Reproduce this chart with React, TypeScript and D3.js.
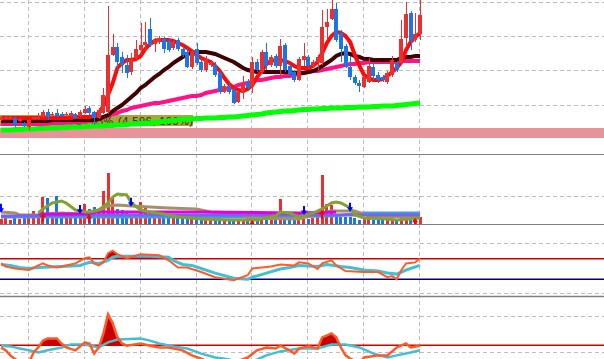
import React from 'react';
import * as d3 from 'd3';

const W = 604;
const H = 359;

// ---- main price panel (one entry per bar) ----
const opens = [3.20,3.21,3.21,3.22,3.19,3.17,3.13,3.21,3.21,3.23, 3.28,3.25,3.27,3.26,3.25,3.24,3.26,3.24,3.27,3.32, 3.28,3.22,3.27,3.28,3.85,3.93,3.83,3.75,3.68,3.82, 3.90,3.95,4.11,3.96,3.98,4.01,3.99,3.92,4.00,3.91, 3.88,3.73,3.91,3.78,3.70,3.75,3.75,3.67,3.48,3.54, 3.50,3.38,3.47,3.58,3.53,3.78,3.68,3.88,3.75,3.84, 3.74,3.95,3.74,3.68,3.60,3.80,3.83,3.74,3.78,3.77, 4.13,4.21,4.31,4.07,3.94,3.73,3.63,3.57,3.53,3.58, 3.73,3.65,3.63,3.58,3.65,3.77,3.77,4.02,4.27,4.00, 4.06];
const closes = [3.23,3.23,3.23,3.15,3.21,3.14,3.20,3.23,3.23,3.28, 3.23,3.26,3.24,3.24,3.26,3.27,3.22,3.28,3.31,3.27, 3.22,3.30,3.45,3.85,3.93,3.78,3.75,3.67,3.81,3.91, 3.95,3.98,3.95,4.00,4.02,3.91,3.90,3.98,3.91,3.85, 3.73,3.88,3.77,3.70,3.81,3.78,3.65,3.48,3.54,3.48, 3.37,3.48,3.55,3.52,3.78,3.70,3.88,3.74,3.83,3.74, 3.94,3.70,3.66,3.60,3.81,3.84,3.74,3.78,3.83,4.13, 4.18,4.31,4.00,3.91,3.73,3.63,3.57,3.54,3.63,3.74, 3.64,3.60,3.60,3.67,3.80,3.70,4.01,4.26,3.99,4.06, 4.25];
const highs = [3.24,3.24,3.24,3.23,3.22,3.18,3.21,3.24,3.27,3.30, 3.31,3.28,3.31,3.28,3.28,3.29,3.27,3.30,3.34,3.34, 3.29,3.32,3.52,4.34,4.06,3.97,3.88,3.85,3.87,4.00, 4.17,4.18,4.22,4.02,4.04,4.03,4.01,4.00,4.02,3.94, 3.92,3.91,3.97,3.82,3.84,3.80,3.78,3.70,3.56,3.57, 3.52,3.50,3.64,3.61,3.83,3.81,3.90,3.97,3.85,3.86, 4.01,3.97,3.76,3.70,3.83,3.97,3.85,3.80,3.85,4.30, 4.31,4.40,4.37,4.10,3.96,3.84,3.65,3.60,3.65,3.82, 3.78,3.68,3.65,3.69,3.84,3.79,4.20,4.38,4.29,4.27, 4.40];
const lows = [3.19,3.20,3.20,3.13,3.18,3.13,3.10,3.20,3.20,3.22, 3.20,3.23,3.23,3.23,3.23,3.23,3.21,3.23,3.26,3.25, 3.15,3.21,3.26,3.26,3.84,3.70,3.67,3.62,3.65,3.80, 3.85,3.88,3.93,3.88,3.96,3.87,3.88,3.90,3.89,3.83, 3.72,3.71,3.75,3.68,3.68,3.73,3.63,3.46,3.47,3.46, 3.36,3.37,3.41,3.50,3.47,3.68,3.66,3.70,3.73,3.72, 3.62,3.68,3.64,3.58,3.59,3.74,3.72,3.73,3.70,3.75, 4.00,4.20,3.98,3.78,3.72,3.60,3.55,3.48,3.52,3.57, 3.60,3.57,3.58,3.56,3.63,3.68,3.75,3.95,3.90,3.98, 4.00];

const maFast = [3.22,3.22,3.22,3.22,3.22,3.22,3.22,3.22,3.22,3.22, 3.22,3.22,3.22,3.22,3.22,3.22,3.23,3.23,3.23,3.23, 3.24,3.27,3.34,3.45,3.57,3.72,3.77,3.80,3.80,3.81, 3.84,3.91,3.96,3.99,4.00,4.00,4.00,3.99,3.97,3.95, 3.92,3.89,3.85,3.82,3.80,3.78,3.74,3.69,3.62,3.56, 3.52,3.50,3.49,3.51,3.55,3.63,3.69,3.76,3.79,3.80, 3.80,3.79,3.77,3.74,3.72,3.72,3.72,3.74,3.78,3.87, 3.97,4.04,4.08,4.07,4.04,3.98,3.85,3.74,3.65,3.62, 3.60,3.60,3.61,3.64,3.68,3.72,3.78,3.90,3.98,4.03, 4.07];
const maMid = [3.19,3.19,3.19,3.19,3.19,3.19,3.19,3.19,3.19,3.19, 3.19,3.20,3.20,3.20,3.20,3.20,3.20,3.20,3.20,3.20, 3.20,3.21,3.23,3.25,3.29,3.32,3.35,3.39,3.43,3.47, 3.52,3.55,3.59,3.63,3.66,3.70,3.73,3.77,3.80,3.83, 3.86,3.87,3.88,3.88,3.88,3.87,3.86,3.84,3.82,3.80, 3.78,3.75,3.72,3.70,3.69,3.68,3.68,3.68,3.68,3.68, 3.68,3.68,3.68,3.67,3.67,3.67,3.68,3.69,3.71,3.74, 3.77,3.80,3.84,3.86,3.87,3.86,3.84,3.83,3.81,3.81, 3.80,3.80,3.80,3.80,3.80,3.80,3.82,3.83,3.83,3.84, 3.84];
const maSlow = [3.16,3.16,3.16,3.16,3.16,3.16,3.16,3.16,3.16,3.16, 3.165,3.17,3.17,3.17,3.175,3.175,3.18,3.18,3.185,3.19, 3.20,3.21,3.23,3.24,3.26,3.27,3.29,3.30,3.32,3.33, 3.34,3.35,3.36,3.37,3.37,3.38,3.39,3.40,3.41,3.42, 3.43,3.44,3.44,3.45,3.47,3.48,3.49,3.50,3.51,3.52, 3.53,3.55,3.56,3.57,3.58,3.60,3.60,3.61,3.62,3.63, 3.63,3.64,3.64,3.65,3.66,3.67,3.68,3.69,3.69,3.70, 3.71,3.72,3.73,3.74,3.75,3.76,3.76,3.77,3.77,3.78, 3.78,3.78,3.78,3.78,3.78,3.78,3.79,3.79,3.79,3.79, 3.79];
const maLong = [3.10,3.10,3.10,3.105,3.105,3.11,3.11,3.11,3.115,3.115, 3.12,3.12,3.12,3.125,3.125,3.13,3.13,3.13,3.135,3.135, 3.14,3.14,3.14,3.145,3.145,3.15,3.15,3.155,3.16,3.16, 3.165,3.17,3.17,3.175,3.18,3.185,3.19,3.195,3.20,3.205, 3.205,3.21,3.215,3.215,3.22,3.22,3.22,3.225,3.225,3.23, 3.23,3.235,3.24,3.245,3.25,3.255,3.26,3.27,3.275,3.28, 3.285,3.29,3.29,3.295,3.30,3.305,3.305,3.31,3.31,3.315, 3.315,3.32,3.32,3.32,3.325,3.325,3.325,3.33,3.33,3.33, 3.335,3.335,3.34,3.34,3.34,3.345,3.35,3.355,3.36,3.365, 3.37];
const priceGrid = [4.375, 4.04, 3.695, 3.35];
const labelPct = '14.05%';
const labelInfo = '(4.596, 100%)';

// ---- volume panel ----
const volumes = [90,100,80,110,90,100,120,230,110,480, 470,130,500,120,100,110,120,150,357,270, 300,220,590,910,460,270,250,200,180,160, 390,300,240,180,150,130,120,110,110,100, 120,110,100,90,100,90,100,110,90,80, 90,80,70,70,100,80,90,80,80,90, 446,100,90,80,150,120,90,100,130,875, 357,340,150,120,130,120,100,80,90,100, 80,90,70,80,90,80,100,140,110,100, 130];
const tanLine: [number, number][] = [[0,214],[3,196],[4,161],[8,161],[13,196],[17,179],[19,214],[21,250],[23,321],[25,339],[28,321],[32,304],[36,286],[42,268],[45,214],[51,196],[53,107],[64,89],[68,179],[71,232],[76,232],[79,143],[90,125]];
const oliveLine: [number, number][] = [[8,196],[9,268],[11,375],[13,411],[14,375],[16,250],[18,214],[19,214],[21,250],[23,375],[24,482],[25,536],[27,518],[28,375],[30,250],[32,214],[35,179],[38,125],[43,89],[49,71],[55,71],[59,143],[60,214],[62,196],[64,125],[67,196],[69,268],[71,375],[72,393],[73,375],[75,286],[76,161],[78,107],[83,89],[85,71],[90,107]];
const magentaLine: [number, number][] = [[8,179],[19,179],[20,214],[43,214],[64,196],[72,214]];
const purpleLine: [number, number][] = [[0,143],[21,161],[64,161],[90,161]];
const blueLine: [number, number][] = [[0,125],[17,125],[53,125],[71,143],[78,196],[90,196]];
const downArrows: [number, number][] = [[0,202],[17,179],[28,309],[65,161],[75,220]];
const upArrows: [number, number][] = [[9,202],[19,179],[54,71],[69,250],[89,112]];

// ---- RSI panel ----
const rsiSignal: [number, number][] = [[0,59],[2,57],[4,53],[6,51],[8,53],[13,55],[17,57],[19,63],[21,61],[23,67],[24,73],[25,75],[32,75],[36,73],[37,67],[39,59],[41,57],[43,51],[46,42],[50,32],[53,30],[54,34],[57,42],[60,50],[62,53],[64,57],[68,55],[70,59],[73,55],[75,53],[78,48],[81,46],[83,42],[85,40],[87,48],[90,57]];
const rsiMain: [number, number][] = [[0,61],[1,55],[3,51],[4,50],[6,48],[8,57],[9,61],[10,57],[12,53],[14,57],[16,61],[18,71],[19,73],[20,61],[21,57],[22,63],[23,81],[24,86],[25,79],[27,71],[30,79],[34,77],[36,67],[38,53],[40,53],[43,44],[46,34],[50,28],[53,38],[54,51],[56,53],[58,55],[60,59],[63,57],[64,63],[66,61],[68,50],[69,61],[71,67],[72,57],[74,46],[78,44],[81,44],[83,34],[84,36],[85,30],[86,48],[87,61],[89,63],[90,71]];
const rsiLevels = { high: 70, low: 30 };

// ---- oscillator panel ----
const oscMain: [number, number][] = [[0,14],[1,6],[2,-8],[4,-28],[6,-28],[7,0],[8,14],[9,33],[10,39],[12,39],[13,25],[14,14],[16,6],[18,28],[19,25],[20,-3],[21,14],[22,53],[23,106],[24,81],[25,42],[26,25],[27,19],[30,25],[32,19],[34,14],[36,14],[39,6],[41,-8],[43,-17],[45,-28],[50,-28],[53,-14],[55,6],[57,14],[59,11],[60,19],[62,6],[63,-3],[64,11],[66,17],[68,11],[69,42],[71,53],[72,42],[73,14],[74,-8],[75,-17],[77,-28],[78,-14],[81,-8],[83,-8],[85,14],[87,25],[88,14],[90,19]];
const oscSignal: [number, number][] = [[0,19],[2,17],[4,11],[6,6],[8,0],[10,6],[13,14],[15,22],[18,22],[21,14],[23,28],[25,36],[30,39],[32,33],[34,25],[37,17],[40,11],[43,-3],[46,-14],[48,-17],[51,-25],[54,-25],[57,-8],[60,3],[64,11],[68,11],[71,22],[74,22],[77,14],[80,-3],[83,-14],[85,-8],[88,0],[90,6]];
const oscLevel = 20;

const gridBars = [6, 18, 30, 42, 54, 66, 78, 90];

const RED = '#e83030';
const BLUE = '#1a76e6';
const GRID = '#bdbdbd';

export default function App() {
  const x = d3.scaleLinear().domain([0, 90]).range([1, 420]);
  const yMain = d3.scaleLinear().domain([3.0, 4.4]).range([140, 0]);
  const yVol = d3.scaleLinear().domain([0, 1250]).range([224, 154]);
  const yRsi = d3.scaleLinear().domain([0, 100]).range([294.5, 243.5]);
  const yOsc = d3.scaleLinear().domain([0, 100]).range([352.5, 316.5]);

  const mainLine = (arr: number[]) =>
    d3.line<number>().x((_, i) => x(i)).y((v) => yMain(v))(arr) || '';
  const pairLine = (arr: [number, number][], ys: d3.ScaleLinear<number, number>) =>
    d3.line<[number, number]>().x((d) => x(d[0])).y((d) => ys(d[1]))(arr) || '';
  const pairArea = (arr: [number, number][], ys: d3.ScaleLinear<number, number>, level: number) =>
    d3.area<[number, number]>().x((d) => x(d[0])).y0(ys(level)).y1((d) => ys(d[1]))(arr) || '';

  const crisp = (v: number) => Math.floor(v) + 0.5;
  const hLine = (y: number, color: string, width = 1, dash?: string) => (
    <line x1={0} x2={W} y1={y} y2={y} stroke={color} strokeWidth={width} strokeDasharray={dash} />
  );

  const downArrow = (cx: number, ty: number) =>
    `M${cx - 1},${ty - 9} L${cx + 1},${ty - 9} L${cx + 1},${ty - 4.5} L${cx + 3},${ty - 4.5} L${cx},${ty} L${cx - 3},${ty - 4.5} L${cx - 1},${ty - 4.5} Z`;
  const upArrow = (cx: number, ty: number) =>
    `M${cx - 1},${ty + 9} L${cx + 1},${ty + 9} L${cx + 1},${ty + 4.5} L${cx + 3},${ty + 4.5} L${cx},${ty} L${cx - 3},${ty + 4.5} L${cx - 1},${ty + 4.5} Z`;

  const volTop = yVol(1250);
  const volBot = yVol(0);

  return (
    <svg width={W} height={H} style={{ position: 'absolute', left: 0, top: 0, background: '#fff' }}
      fontFamily="'Liberation Sans', Arial, sans-serif">
      <defs>
        <clipPath id="rsiTop"><rect x={0} y={0} width={W} height={yRsi(rsiLevels.high)} /></clipPath>
        <clipPath id="oscTop"><rect x={0} y={0} width={W} height={yOsc(oscLevel)} /></clipPath>
        <clipPath id="volClip"><rect x={0} y={volTop} width={W} height={volBot - volTop} /></clipPath>
      </defs>
      <rect x={0} y={0} width={W} height={H} fill="#fff" />

      {/* vertical grid */}
      {gridBars.map((b) => {
        const gx = Math.round(x(b) - 1) + 0.5;
        return <line key={'vg' + b} x1={gx} x2={gx} y1={0} y2={H} stroke={GRID} strokeDasharray="4,3" />;
      })}
      {/* horizontal grid main */}
      {priceGrid.map((p) => (
        <line key={'hg' + p} x1={0} x2={W} y1={crisp(yMain(p))} y2={crisp(yMain(p))} stroke={GRID} strokeDasharray="4,3" />
      ))}

      {/* label band */}
      <rect x={0} y={115} width={193} height={11} fill="#a6a83c" />
      <text x={113} y={124.5} fontSize={11} fill="#2b2b10" textAnchor="end">{labelPct}</text>
      <text x={118} y={124.5} fontSize={11} fill="#2b2b10" textLength={75} lengthAdjust="spacing">{labelInfo}</text>

      {/* band under main panel */}
      <rect x={0} y={128} width={W} height={10} fill="#e6939a" />

      {/* moving averages */}
      <path d={mainLine(maLong)} fill="none" stroke="#00ff00" strokeWidth={5} />
      <path d={mainLine(maSlow)} fill="none" stroke="#ff1289" strokeWidth={4} />
      <path d={mainLine(maMid)} fill="none" stroke="#3f0000" strokeWidth={4} />
      <path d={mainLine(maFast)} fill="none" stroke="#ff0a0a" strokeWidth={4} />

      {/* candles */}
      {opens.map((o, i) => {
        const c = closes[i];
        const col = c >= o ? RED : BLUE;
        const bx = Math.round(x(i) - 2);
        const top = Math.round(yMain(Math.max(o, c)));
        const bot = Math.round(yMain(Math.min(o, c)));
        const hy = Math.round(yMain(highs[i]));
        const ly = Math.round(yMain(lows[i]));
        return (
          <g key={'c' + i}>
            <rect x={bx + 2} y={hy} width={1} height={Math.max(1, ly - hy)} fill={col} />
            <rect x={bx} y={top} width={4} height={Math.max(1, bot - top)} fill={col} />
          </g>
        );
      })}

      {/* volume panel */}
      {hLine(crisp(yVol(500)), GRID, 1, '4,3')}
      <g clipPath="url(#volClip)">
        {volumes.map((v, i) => {
          const col = closes[i] >= opens[i] ? RED : BLUE;
          const bx = Math.round(x(i) - 1.5);
          const top = Math.round(yVol(v));
          return <rect key={'v' + i} x={bx} y={top} width={3} height={Math.round(volBot) - top} fill={col} />;
        })}
        <path d={pairLine(blueLine, yVol)} fill="none" stroke="#3ea0d8" strokeWidth={3} />
        <path d={pairLine(tanLine, yVol)} fill="none" stroke="#a88f66" strokeWidth={3} />
        <path d={pairLine(purpleLine, yVol)} fill="none" stroke="#7f5ff0" strokeWidth={3} />
        <path d={pairLine(magentaLine, yVol)} fill="none" stroke="#e000e0" strokeWidth={3} />
        <path d={pairLine(oliveLine, yVol)} fill="none" stroke="#80a232" strokeWidth={3} />
        {downArrows.map(([b, v]) => (
          <path key={'da' + b} d={downArrow(Math.round(x(b)), yVol(v))} fill="#0000ff" />
        ))}
        {upArrows.map(([b, v]) => (
          <path key={'ua' + b} d={upArrow(Math.round(x(b)), yVol(v))} fill="#ff0000" />
        ))}
      </g>
      {hLine(crisp(volTop), '#808080')}
      {hLine(crisp(volBot), '#808080')}

      {/* RSI panel */}
      {hLine(crisp(yRsi(100)), GRID, 1, '4,3')}
      {hLine(crisp(yRsi(0)) - 1, GRID, 1, '4,3')}
      {hLine(yRsi(rsiLevels.high), '#cc0000', 1.6)}
      {hLine(yRsi(rsiLevels.low), '#000080', 1.6)}
      <path d={pairArea(rsiMain, yRsi, rsiLevels.high)} fill="#cc0000" clipPath="url(#rsiTop)" />
      <path d={pairLine(rsiSignal, yRsi)} fill="none" stroke="#40c0d0" strokeWidth={3} />
      <path d={pairLine(rsiMain, yRsi)} fill="none" stroke="#ff5a28" strokeWidth={2} />
      {hLine(296.5, '#808080', 1.5)}

      {/* oscillator panel */}
      {hLine(crisp(yOsc(100)), GRID, 1, '4,3')}
      {hLine(crisp(yOsc(0)), GRID, 1, '4,3')}
      {hLine(yOsc(oscLevel), '#cc0000', 1.6)}
      <path d={pairArea(oscMain, yOsc, oscLevel)} fill="#c80000" clipPath="url(#oscTop)" />
      <path d={pairLine(oscSignal, yOsc)} fill="none" stroke="#40c0d0" strokeWidth={2.5} />
      <path d={pairLine(oscMain, yOsc)} fill="none" stroke="#ff5a28" strokeWidth={2.5} />
    </svg>
  );
}
